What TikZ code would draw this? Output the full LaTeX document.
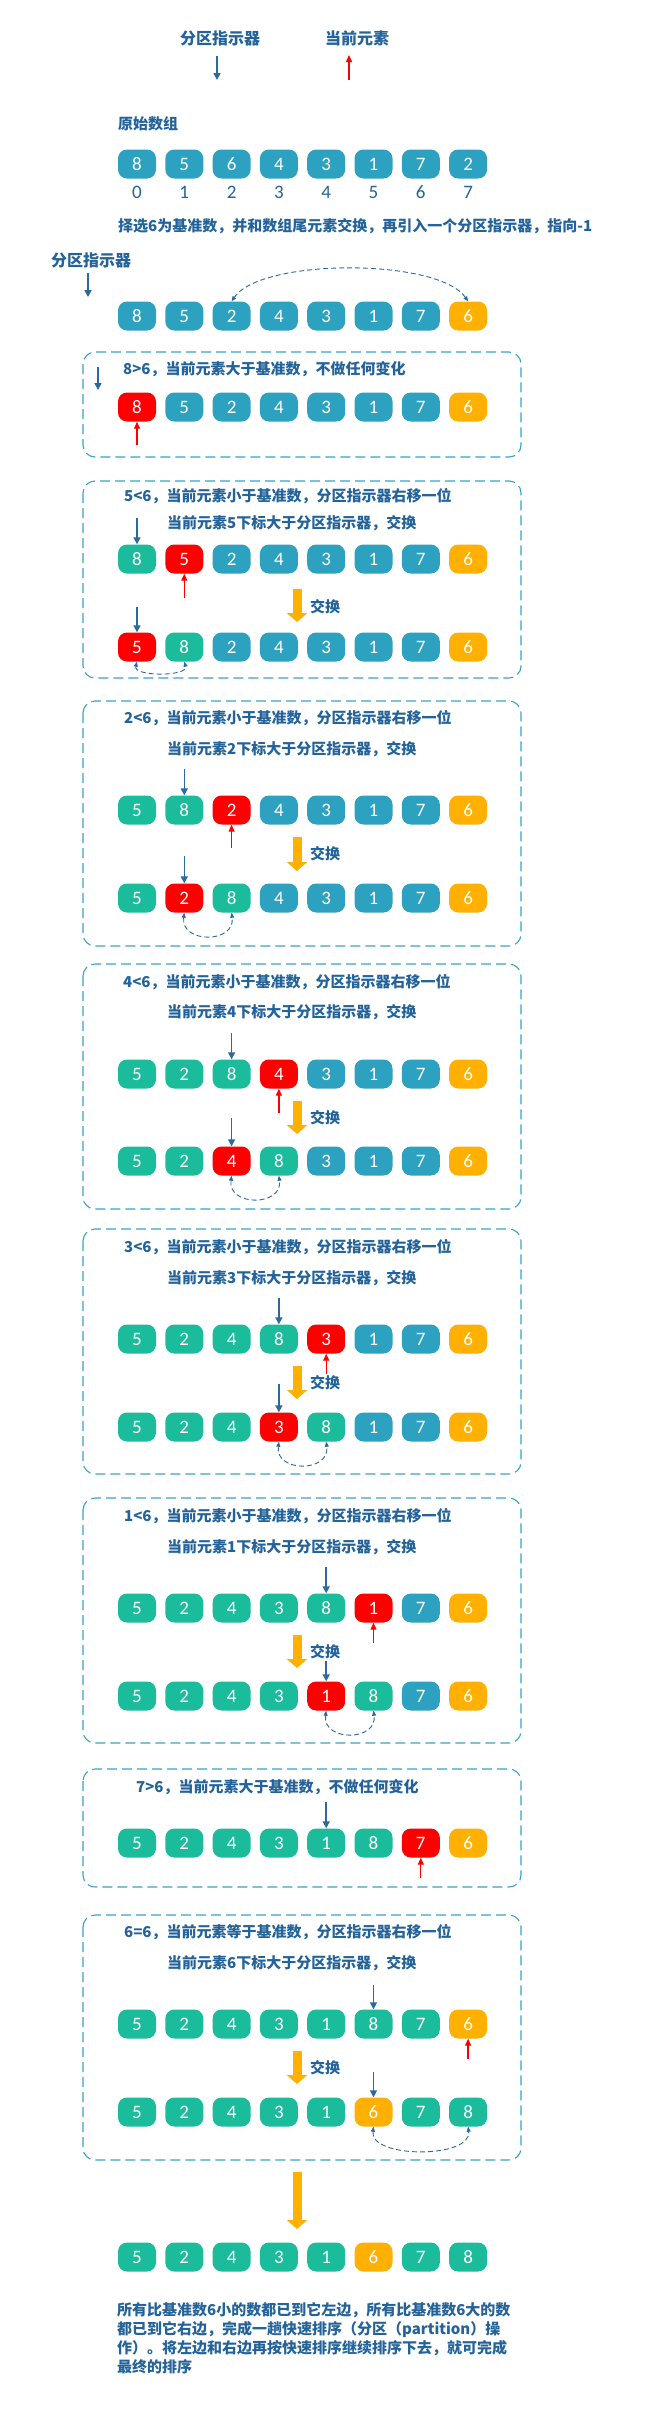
\documentclass[tikz,border=0pt]{standalone}
\usepackage{fontspec}
\setmainfont{Carlito}
\newfontfamily\cjk{Noto Sans CJK SC}
\usetikzlibrary{arrows.meta}
\definecolor{cB}{HTML}{2CA2C0}
\definecolor{cG}{HTML}{1BBC9B}
\definecolor{cR}{HTML}{FF0000}
\definecolor{cO}{HTML}{FFB000}
\definecolor{ctext}{HTML}{23639A}
\definecolor{cptr}{HTML}{2A6A9E}
\definecolor{cframe}{HTML}{3AA3C4}
\tikzset{
  numbox/.style={rounded corners=9pt, minimum width=38pt, minimum height=29pt, inner sep=0pt, text=white, font=\fontsize{19}{19}\selectfont},
  idx/.style={inner sep=0pt, text=ctext, font=\fontsize{19}{19}\selectfont},
  lbl/.style={anchor=west, inner sep=0pt, text=ctext, font=\cjk\bfseries\fontsize{15}{18}\selectfont},
  ptr/.style={draw=cptr, line width=1.6pt, -{Triangle[length=7pt,width=7pt]}},
  cur/.style={draw=cR, line width=1.3pt, -{Triangle[length=7pt,width=6pt]}},
  swp/.style={draw=cptr, line width=0.9pt, dash pattern=on 5pt off 3pt, {Triangle[length=5pt,width=4pt]}-{Triangle[length=5pt,width=4pt]}},
  frame/.style={draw=cframe, line width=1.1pt, dash pattern=on 10pt off 5pt, rounded corners=12pt},
  big/.style={draw=cO, line width=9pt, -{Triangle[length=9pt,width=20pt]}}
}
\newcommand\drawrow[3]{\foreach \c/\v [count=\i from 0] in {#3} {\node[numbox,fill=\c] (#1-\i) at ({137+47.3*\i},#2) {\v};}}
\newcommand\pdown[2]{\draw[ptr] ([yshift=#2]#1.north) -- (#1.north);}
\newcommand\pup[2]{\draw[cur] ([yshift=-#2]#1.south) -- (#1.south);}
\newcommand\swapdown[3]{\draw[swp] (#1.south) .. controls +(-4,#3) and +(4,#3) .. (#2.south);}
\newcommand\oarrow[4]{\coordinate (oa#1s) at (297,#2); \coordinate (oa#1e) at (297,#3); \draw[big] (oa#1s) -- (oa#1e); \node[lbl] (sw#1) at (310,#4) {交换};}
\begin{document}
\begin{tikzpicture}[x=1pt,y=-1pt]
\useasboundingbox[fill=white] (0,0) rectangle (651,2428);
% legend
\node[lbl, anchor=center, font=\cjk\bfseries\fontsize{16}{18}\selectfont] (lgp) at (220,38) {分区指示器};
\node[lbl, anchor=center, font=\cjk\bfseries\fontsize{16}{18}\selectfont] (lgc) at (357,38) {当前元素};
\coordinate (lgp1) at (217,56); \coordinate (lgp2) at (217,80);
\draw[ptr] (lgp1) -- (lgp2);
\coordinate (lgc1) at (349,80); \coordinate (lgc2) at (349,55);
\draw[cur] (lgc1) -- (lgc2);
% original array
\node[lbl] (orig) at (118,124) {原始数组};
\drawrow{i1}{164}{cB/8,cB/5,cB/6,cB/4,cB/3,cB/1,cB/7,cB/2}
\foreach \i in {0,...,7} {\node[idx] (ix-\i) at ({137+47.3*\i},192) {\i};}
\node[lbl] (intro) at (118,226) {择选6为基准数，并和数组尾元素交换，再引入一个分区指示器，指向-1};
\node[lbl, font=\cjk\bfseries\fontsize{16}{18}\selectfont] (pi) at (51,260) {分区指示器};
\coordinate (pi1) at (88,273); \coordinate (pi2) at (88,297);
\draw[ptr] (pi1) -- (pi2);
\drawrow{i2}{316}{cB/8,cB/5,cB/2,cB/4,cB/3,cB/1,cB/7,cO/6}
\draw[swp] (i2-7.north) .. controls (438,258) and (261,258) .. (i2-2.north);
% frame A
\draw[frame] (83,352) rectangle (521,457);
\node[lbl] (ta) at (123,369) {8>6，当前元素大于基准数，不做任何变化};
\coordinate (pa1) at (98,367); \coordinate (pa2) at (98,390);
\draw[ptr] (pa1) -- (pa2);
\drawrow{fa}{407}{cR/8,cB/5,cB/2,cB/4,cB/3,cB/1,cB/7,cO/6}
\pup{fa-0}{23pt}
% frame B
\draw[frame] (83,481) rectangle (521,678);
\node[lbl] (tb1) at (124,496) {5<6，当前元素小于基准数，分区指示器右移一位};
\node[lbl] (tb2) at (167,523) {当前元素5下标大于分区指示器，交换};
\drawrow{fb1}{559}{cG/8,cR/5,cB/2,cB/4,cB/3,cB/1,cB/7,cO/6}
\pdown{fb1-0}{26pt}
\pup{fb1-1}{24pt}
\oarrow{b}{589}{622}{607}
\drawrow{fb2}{647}{cR/5,cG/8,cB/2,cB/4,cB/3,cB/1,cB/7,cO/6}
\pdown{fb2-0}{25pt}
\swapdown{fb2-0}{fb2-1}{15}
% frame C
\draw[frame] (83,701) rectangle (521,946);
\node[lbl] (tc1) at (124,718) {2<6，当前元素小于基准数，分区指示器右移一位};
\node[lbl] (tc2) at (167,749) {当前元素2下标大于分区指示器，交换};
\drawrow{fc1}{810}{cG/5,cG/8,cR/2,cB/4,cB/3,cB/1,cB/7,cO/6}
\pdown{fc1-1}{26pt}
\pup{fc1-2}{23pt}
\oarrow{c}{837}{871}{854}
\drawrow{fc2}{898}{cG/5,cR/2,cG/8,cB/4,cB/3,cB/1,cB/7,cO/6}
\pdown{fc2-1}{27pt}
\swapdown{fc2-1}{fc2-2}{31}
% frame D
\draw[frame] (83,964) rectangle (521,1209);
\node[lbl] (td1) at (123,982) {4<6，当前元素小于基准数，分区指示器右移一位};
\node[lbl] (td2) at (167,1012) {当前元素4下标大于分区指示器，交换};
\drawrow{fd1}{1074}{cG/5,cG/2,cG/8,cR/4,cB/3,cB/1,cB/7,cO/6}
\pdown{fd1-2}{26pt}
\pup{fd1-3}{24pt}
\oarrow{d}{1101}{1134}{1118}
\drawrow{fd2}{1161}{cG/5,cG/2,cR/4,cG/8,cB/3,cB/1,cB/7,cO/6}
\pdown{fd2-2}{28pt}
\swapdown{fd2-2}{fd2-3}{31}
% frame E
\draw[frame] (83,1229) rectangle (521,1474);
\node[lbl] (te1) at (124,1247) {3<6，当前元素小于基准数，分区指示器右移一位};
\node[lbl] (te2) at (167,1278) {当前元素3下标大于分区指示器，交换};
\drawrow{fe1}{1339}{cG/5,cG/2,cG/4,cG/8,cR/3,cB/1,cB/7,cO/6}
\pdown{fe1-3}{26pt}
\pup{fe1-4}{20pt}
\oarrow{e}{1366}{1399}{1383}
\drawrow{fe2}{1427}{cG/5,cG/2,cG/4,cR/3,cG/8,cB/1,cB/7,cO/6}
\pdown{fe2-3}{28pt}
\swapdown{fe2-3}{fe2-4}{31}
% frame F
\draw[frame] (83,1498) rectangle (521,1743);
\node[lbl] (tf1) at (124,1516) {1<6，当前元素小于基准数，分区指示器右移一位};
\node[lbl] (tf2) at (167,1547) {当前元素1下标大于分区指示器，交换};
\drawrow{ff1}{1608}{cG/5,cG/2,cG/4,cG/3,cG/8,cR/1,cB/7,cO/6}
\pdown{ff1-4}{26pt}
\pup{ff1-5}{20pt}
\oarrow{f}{1635}{1668}{1652}
\drawrow{ff2}{1696}{cG/5,cG/2,cG/4,cG/3,cR/1,cG/8,cB/7,cO/6}
\pdown{ff2-4}{20pt}
\swapdown{ff2-4}{ff2-5}{31}
% frame G
\draw[frame] (83,1769) rectangle (521,1887);
\node[lbl] (tg) at (136,1787) {7>6，当前元素大于基准数，不做任何变化};
\drawrow{fg}{1843}{cG/5,cG/2,cG/4,cG/3,cG/1,cG/8,cR/7,cO/6}
\pdown{fg-4}{26pt}
\pup{fg-6}{20pt}
% frame H
\draw[frame] (83,1915) rectangle (521,2160);
\node[lbl] (th1) at (124,1932) {6=6，当前元素等于基准数，分区指示器右移一位};
\node[lbl] (th2) at (167,1963) {当前元素6下标大于分区指示器，交换};
\drawrow{fh1}{2024}{cG/5,cG/2,cG/4,cG/3,cG/1,cG/8,cG/7,cO/6}
\pdown{fh1-5}{24pt}
\pup{fh1-7}{20pt}
\oarrow{h}{2051}{2084}{2068}
\drawrow{fh2}{2112}{cG/5,cG/2,cG/4,cG/3,cG/1,cO/6,cG/7,cG/8}
\pdown{fh2-5}{25pt}
\swapdown{fh2-5}{fh2-7}{32}
% final
\coordinate (fin1) at (297,2172); \coordinate (fin2) at (297,2229);
\draw[big] (fin1) -- (fin2);
\drawrow{fin}{2257}{cG/5,cG/2,cG/4,cG/3,cG/1,cO/6,cG/7,cG/8}
\node[lbl, align=left, font=\cjk\bfseries\fontsize{15}{19}\selectfont] (concl) at (117,2338.5) {所有比基准数6小的数都已到它左边，所有比基准数6大的数\\都已到它右边，完成一趟快速排序（分区（partition）操\\作）。将左边和右边再按快速排序继续排序下去，就可完成\\最终的排序};
\end{tikzpicture}
\end{document}
